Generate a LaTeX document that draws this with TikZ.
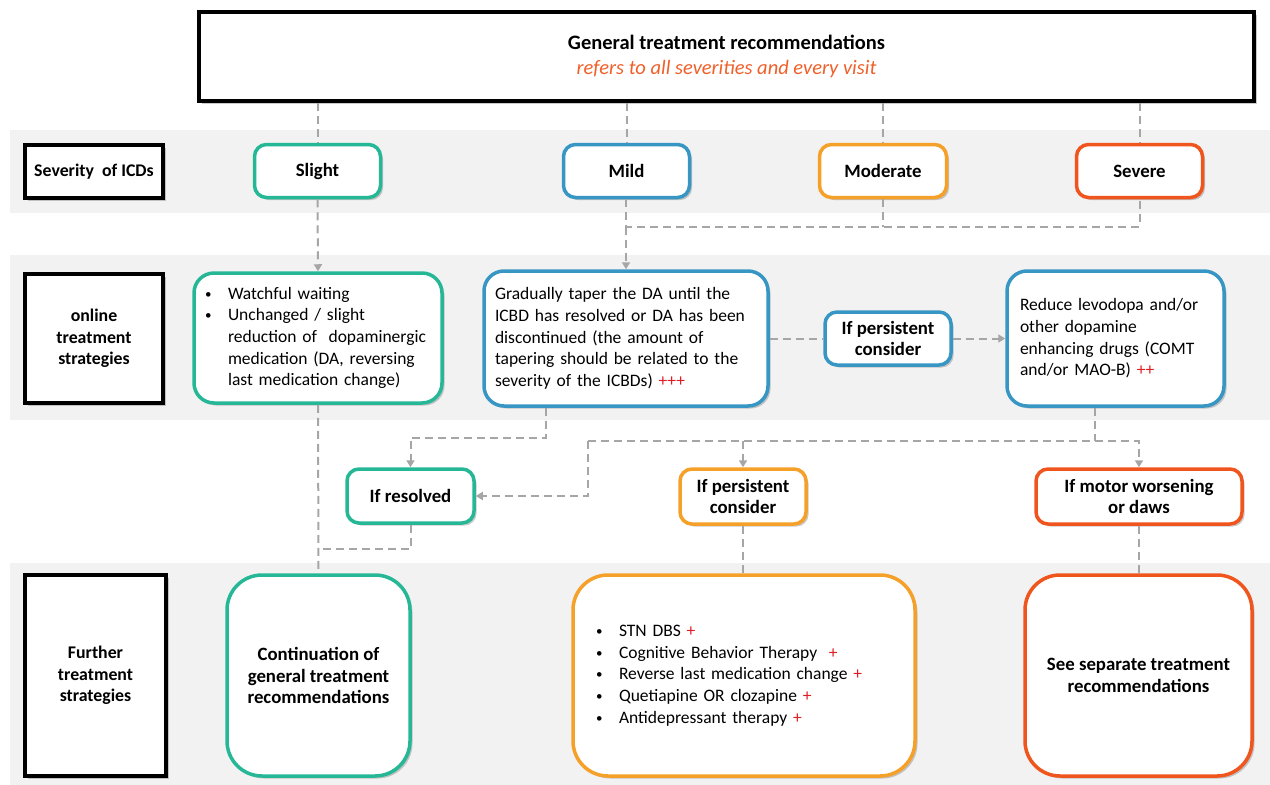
\documentclass[tikz,border=0pt]{standalone}
\usepackage{fontspec}
\setmainfont{Carlito}
\usetikzlibrary{arrows.meta,shadows}
\definecolor{cteal}{HTML}{26B896}
\definecolor{cblue}{HTML}{3796C3}
\definecolor{corange}{HTML}{F5A028}
\definecolor{cred}{HTML}{F0551E}
\definecolor{ctitle}{HTML}{F0602A}
\definecolor{cplus}{HTML}{E31B23}
\definecolor{cband}{HTML}{F2F2F2}
\definecolor{cline}{HTML}{A6A6A6}
\newcommand{\pl}[1]{{\color{cplus}#1}}
\newcommand{\bul}{\makebox[27pt][l]{\hspace{4pt}\raisebox{1pt}{\fontsize{13}{13}\selectfont\textbullet}}}
\begin{document}
\begin{tikzpicture}[x=1pt,y=-1pt,
  shad/.style={drop shadow={shadow xshift=2.5pt,shadow yshift=-2.5pt,opacity=.35,fill=black!60}},
  blk/.style={draw=black,line width=4pt,fill=white,shad,align=center,inner sep=0pt,
    font=\fontsize{17.8}{21.7}\selectfont\bfseries},
  cbox/.style={draw=#1,line width=3.5pt,fill=white,shad,rounded corners=12pt,align=center,
    inner sep=0pt,font=\fontsize{18.8}{21.7}\selectfont\bfseries},
  body/.style={font=\fontsize{17.5}{21.7}\selectfont,align=left},
  conn/.style={draw=cline,line width=2pt,dash pattern=on 8pt off 5pt},
  arr/.style={conn,-{Triangle[width=8pt,length=7pt]}}
]
\useasboundingbox (0,0) rectangle (1270,785);
% bands
\fill[cband] (10,130) rectangle (1270,213);
\fill[cband] (10,255) rectangle (1270,420);
\fill[cband] (10,563) rectangle (1270,785);

% nodes
\node[blk,minimum width=1055pt,minimum height=89pt] (top) at (726.5,56.5)
  {\fontsize{20.5}{25}\selectfont General treatment recommendations\\[3pt]
   {\fontsize{20.5}{25}\selectfont\normalfont\itshape\color{ctitle}refers to all severities and every visit}};
\node[blk,minimum width=138pt,minimum height=53pt] (sev) at (94,171.5) {Severity~ of ICDs};
\node[cbox=cteal,minimum width=126pt,minimum height=53pt] (slight) at (317.5,171) {Slight};
\node[cbox=cblue,minimum width=126pt,minimum height=53pt] (mild) at (626.5,171) {Mild};
\node[cbox=corange,minimum width=127pt,minimum height=53pt] (moderate) at (883,171) {Moderate};
\node[cbox=cred,minimum width=126pt,minimum height=53pt] (severe) at (1139.5,171) {Severe};

\node[blk,minimum width=138pt,minimum height=129pt] (onl) at (94,338.5) {online\\treatment\\strategies};
\node[cbox=cteal,rounded corners=20pt,minimum width=248pt,minimum height=130pt,body,text width=234pt] (watch) at (318,338)
  {\bul Watchful waiting\\
   \bul Unchanged / slight\\
   \hspace*{27pt}reduction of~ dopaminergic\\
   \hspace*{27pt}medication (DA, reversing\\
   \hspace*{27pt}last medication change)};
\node[cbox=cblue,rounded corners=20pt,minimum width=284pt,minimum height=135pt,body,text width=262pt] (grad) at (626,338.5)
  {Gradually taper the DA until the\\
   ICBD has resolved or DA has been\\
   discontinued (the amount of\\
   tapering should be related to the\\
   severity of the ICBDs) \pl{+++}};
\node[cbox=cblue,minimum width=126pt,minimum height=53pt] (ifp1) at (888,338.5) {If persistent\\consider};
\node[cbox=cblue,rounded corners=20pt,minimum width=217pt,minimum height=135pt,body,text width=191pt] (reduce) at (1115.5,338.5)
  {Reduce levodopa and/or\\
   other dopamine\\
   enhancing drugs (COMT\\
   and/or MAO-B) \pl{++}};

\node[cbox=cteal,minimum width=127pt,minimum height=54pt] (ifres) at (410.5,496) {If resolved};
\node[cbox=corange,minimum width=126pt,minimum height=55pt] (ifp2) at (743,496.5) {If persistent\\consider};
\node[cbox=cred,minimum width=206pt,minimum height=55pt] (ifmotor) at (1139,496.5) {If motor worsening\\or daws};

\node[blk,minimum width=141pt,minimum height=201pt] (further) at (95.5,675.5) {Further\\treatment\\strategies};
\node[cbox=cteal,rounded corners=35pt,minimum width=183pt,minimum height=201pt] (cont) at (318.5,675.5)
  {Continuation of\\general treatment\\recommendations};
\node[cbox=corange,rounded corners=35pt,minimum width=342pt,minimum height=201pt,body,text width=304pt] (orbox) at (744,675.5)
  {\bul STN DBS \pl{+}\\
   \bul Cognitive Behavior Therapy~ \pl{+}\\
   \bul Reverse last medication change \pl{+}\\
   \bul Quetiapine OR clozapine \pl{+}\\
   \bul Antidepressant therapy \pl{+}};
\node[cbox=cred,rounded corners=35pt,minimum width=227pt,minimum height=201pt] (redbox) at (1138.5,675.5)
  {See separate treatment\\recommendations};

% helper coordinates
\coordinate (busL) at (626,227);
\coordinate (c1) at (546,438);
\coordinate (c2) at (410.5,438);
\coordinate (c3) at (1095,441);
\coordinate (c4) at (588,441);
\coordinate (c5) at (1139,441);
\coordinate (c6) at (318,549);

% connectors
\draw[conn] (top.south -| slight.north) -- (slight.north);
\draw[conn] (top.south -| mild.north) -- (mild.north);
\draw[conn] (top.south -| moderate.north) -- (moderate.north);
\draw[conn] (top.south -| severe.north) -- (severe.north);
\draw[arr] (slight.south) -- (watch.north);
\draw[conn] (mild.south -| busL) -- (busL) -| (severe.south);
\draw[conn] (moderate.south) -- (moderate.south |- busL);
\draw[arr] (busL) -- (grad.north -| busL);
\draw[conn] (grad.east) -- (ifp1.west);
\draw[arr] (ifp1.east) -- (reduce.west);
\draw[arr] (grad.south -| c1) -- (c1) -- (c2) -- (ifres.north);
\draw[conn] (reduce.south -| c3) -- (c3);
\draw[arr] (c4) -- (c5) -- (ifmotor.north);
\draw[arr] (c4) |- (ifres.east);
\draw[arr] (ifp2.north |- c4) -- (ifp2.north);
\draw[conn] (watch.south) -- (cont.north);
\draw[conn] (ifres.south) |- (c6);
\draw[conn] (ifp2.south) -- (orbox.north -| ifp2.south);
\draw[conn] (ifmotor.south) -- (redbox.north -| ifmotor.south);
\end{tikzpicture}
\end{document}
